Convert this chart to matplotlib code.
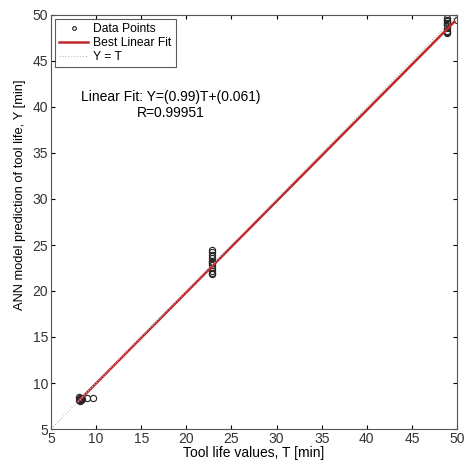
import numpy as np
import matplotlib.pyplot as plt

plt.rcParams['font.family'] = ['Liberation Sans', 'DejaVu Sans']

# Data points
t_vals = [8.1, 8.2, 8.2, 8.3, 8.2, 8.1, 8.4, 9.0, 9.6,
          22.9, 22.9, 22.9, 22.9, 22.9, 22.9, 22.9, 22.9, 22.9, 22.9, 22.9, 22.9,
          48.9, 48.9, 48.9, 48.9, 48.9, 48.9, 48.9, 48.9, 48.9, 48.9, 50]
y_vals = [8.1, 8.3, 8.4, 8.2, 8.0, 8.5, 8.3, 8.4, 8.4,
          21.8, 22.2, 22.5, 22.8, 23.0, 23.3, 23.6, 23.9, 24.2, 24.5, 22.0, 23.1,
          48.0, 48.3, 48.6, 48.9, 49.1, 49.3, 49.5, 49.7, 48.2, 49.0, 49.5]
slope = 0.99
intercept = 0.061
r_val = 0.99951

fig = plt.figure(figsize=(4.68, 4.61), dpi=100)
ax = fig.add_axes([51/468, 32/461, 406/468, 414/461])

t_line = np.array([min(t_vals), max(t_vals) - 0.3])
ax.plot(t_vals, y_vals, 'o', mfc='none', mec='#222222', ms=4.5, mew=0.8, label='Data Points')
ax.plot(t_line, slope * t_line + intercept, color='#c0282c', lw=1.8, label='Best Linear Fit')
ax.plot([5, 50], [5, 50], ':', color='#bbbbbb', lw=0.8, label='Y = T')

ax.set_xlim(5, 50)
ax.set_ylim(5, 50)
ax.set_xticks(range(5, 51, 5))
ax.set_yticks(range(5, 51, 5))
ax.tick_params(direction='in', labelsize=10, length=3, top=True, right=True, pad=2,
               labelcolor='#333333')
for s in ax.spines.values():
    s.set_color('#555555')
    s.set_linewidth(0.8)

ax.set_xlabel('Tool life values, T [min]', fontsize=10)
ax.xaxis.set_label_coords(0.5, -0.041)
ax.set_ylabel('ANN model prediction of tool life, Y [min]', fontsize=9.3)
ax.yaxis.set_label_coords(-0.062, 0.565)

ax.text(18.3, 40.2, f'Linear Fit: Y=({slope})T+({intercept})\nR={r_val}',
        ha='center', va='center', fontsize=10, linespacing=1.15)

leg = ax.legend(loc='upper left', fontsize=8.7, frameon=True, fancybox=False,
                borderaxespad=0.35, handlelength=2.4, borderpad=0.35,
                labelspacing=0.15, markerscale=0.6, handletextpad=0.4)
leg.get_frame().set_edgecolor('#333333')
leg.get_frame().set_linewidth(0.8)

fig.savefig('out.png', dpi=100)
